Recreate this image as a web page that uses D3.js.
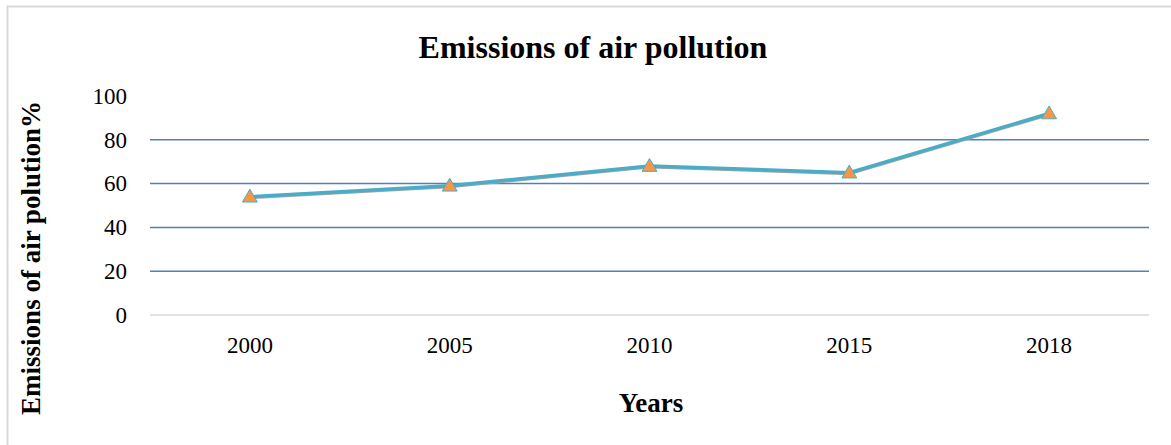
<!DOCTYPE html>
<meta charset="utf-8">
<head>
  <title>Emissions of air pollution</title>
</head>
<body style="margin:0;background:#fff">
<style>
.tick text { font: 23px "Liberation Serif", serif; fill: #000; }
.title { font: bold 32px "Liberation Serif", serif; }
.axis-title { font: bold 27px "Liberation Serif", serif; }
</style>
<svg width="1171" height="445"></svg>
<script src="https://d3js.org/d3.v7.min.js"></script>
<script>

var years = ["2000", "2005", "2010", "2015", "2018"];
var emissions = [54, 59, 68, 65, 92];
var yTicks = [0, 20, 40, 60, 80, 100];

var svg = d3.select("svg"),
    plotLeft = 150, plotRight = 1149, plotTop = 96, plotBottom = 315;

// chart border (only left and top show in the crop)
svg.append("path")
    .attr("d", "M7.5,445 L7.5,6.5 L1171,6.5")
    .attr("fill", "none")
    .attr("stroke", "#d9d9d9")
    .attr("stroke-width", 2);

var x = d3.scaleBand().domain(years).range([plotLeft, plotRight]);
var y = d3.scaleLinear().domain([0, 100]).range([plotBottom, plotTop]);

// gridlines
svg.append("g").selectAll("line")
    .data(yTicks.filter(function(d) { return d > 0 && d < 100; }))
    .enter().append("line")
    .attr("x1", plotLeft).attr("x2", plotRight)
    .attr("y1", function(d) { return y(d); })
    .attr("y2", function(d) { return y(d); })
    .attr("stroke", "#4f81bd")
    .attr("stroke-width", 1.5);

// zero line
svg.append("line")
    .attr("x1", plotLeft).attr("x2", plotRight)
    .attr("y1", y(0)).attr("y2", y(0))
    .attr("stroke", "#d9d9d9")
    .attr("stroke-width", 1.5);

var yAxis = svg.append("g")
    .attr("transform", "translate(" + (plotLeft - 23) + ",0)")
    .call(d3.axisLeft(y).tickValues(yTicks).tickSize(0).tickPadding(0));
yAxis.select(".domain").remove();
yAxis.selectAll("text").attr("dy", "0.32em");

var xAxis = svg.append("g")
    .attr("transform", "translate(0," + (plotBottom + 22) + ")")
    .call(d3.axisBottom(x).tickSize(0).tickPadding(0));
xAxis.select(".domain").remove();
xAxis.selectAll("text").attr("dy", "0.7em");

var line = d3.line()
    .x(function(d, i) { return x(years[i]) + x.bandwidth() / 2; })
    .y(function(d) { return y(d); });

// faint grey line underneath like the original
svg.append("path")
    .datum(emissions)
    .attr("d", line)
    .attr("fill", "none")
    .attr("stroke", "#a6a6a6")
    .attr("stroke-width", 3)
    .attr("transform", "translate(0,1)");

svg.append("path")
    .datum(emissions)
    .attr("d", line)
    .attr("fill", "none")
    .attr("stroke", "#4bacc6")
    .attr("stroke-width", 3.5);

var tri = d3.symbol().type(d3.symbolTriangle).size(95);
svg.append("g").selectAll("path")
    .data(emissions)
    .enter().append("path")
    .attr("d", tri)
    .attr("transform", function(d, i) {
      return "translate(" + (x(years[i]) + x.bandwidth() / 2) + "," + (y(d) + 1) + ")";
    })
    .attr("fill", "#f79646")
    .attr("stroke", "#4bacc6")
    .attr("stroke-width", 1);

svg.append("text")
    .attr("class", "title")
    .attr("x", 593).attr("y", 58)
    .attr("text-anchor", "middle")
    .text("Emissions of air pollution");

svg.append("text")
    .attr("class", "axis-title")
    .attr("x", 651).attr("y", 412)
    .attr("text-anchor", "middle")
    .text("Years");

svg.append("text")
    .attr("class", "axis-title")
    .attr("transform", "translate(40,258) rotate(-90)")
    .attr("text-anchor", "middle")
    .text("Emissions of air polution%");

</script>
</body>
